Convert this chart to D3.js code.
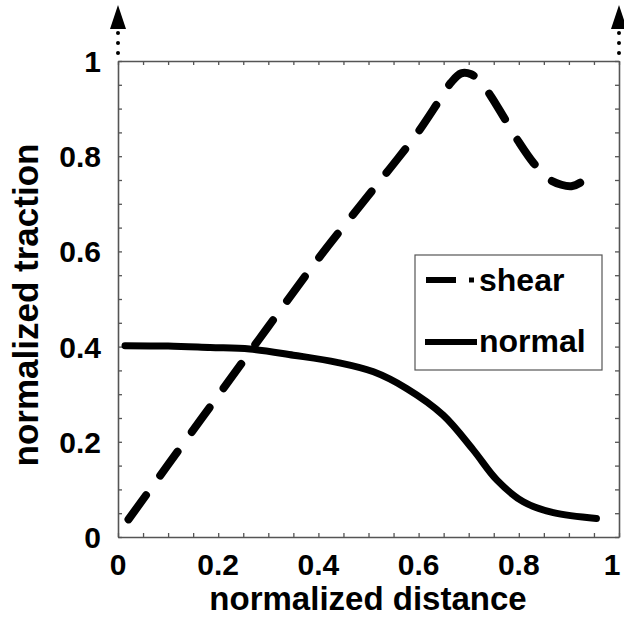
<!DOCTYPE html>
<html>
<head>
<meta charset="utf-8">
<script src="https://cdn.jsdelivr.net/npm/d3@7"></script>
<style>
  body { margin: 0; background: #fff; }
  text { font-family: "Liberation Sans", Arial, Helvetica, sans-serif; font-weight: bold; fill: #000; }
</style>
</head>
<body>
<div id="chart"></div>
<script>
// values
var shearX = [0.021, 0.1, 0.2, 0.3, 0.4, 0.5, 0.56, 0.6, 0.64, 0.665, 0.685, 0.705, 0.725, 0.745, 0.77, 0.8, 0.83, 0.86, 0.885, 0.905, 0.925, 0.945];
var shearY = [0.037, 0.152, 0.297, 0.442, 0.585, 0.718, 0.797, 0.852, 0.915, 0.955, 0.974, 0.972, 0.955, 0.925, 0.882, 0.83, 0.785, 0.752, 0.74, 0.737, 0.746, 0.768];
var normalX = [0.014, 0.1, 0.184, 0.263, 0.35, 0.437, 0.51, 0.576, 0.649, 0.709, 0.756, 0.809, 0.869, 0.955];
var normalY = [0.402, 0.401, 0.398, 0.395, 0.382, 0.367, 0.347, 0.312, 0.256, 0.183, 0.12, 0.074, 0.051, 0.039];
var xTickLabels = [0, 0.2, 0.4, 0.6, 0.8, 1];
var yTickLabels = [0, 0.2, 0.4, 0.6, 0.8, 1];
var minorTicks = d3.range(0, 1.0001, 0.05);
var legendNames = ["shear", "normal"];

(function () {
    var W = 624, H = 621;
    var pLeft = 118, pRight = 619, pTop = 61, pBottom = 537;

    var svg = d3.select("#chart").append("svg")
        .attr("width", W)
        .attr("height", H);

    var x = d3.scaleLinear().domain([0, 1]).range([pLeft, pRight]);
    var y = d3.scaleLinear().domain([0, 1]).range([pBottom, pTop]);

    var fmt = function (d) { return d === 0 || d === 1 ? String(d) : d3.format(".1f")(d); };

    // frame, drawn as four axes with inward ticks
    var axisColor = "#555";
    function styleAxis(g) {
        g.select(".domain").attr("stroke", axisColor).attr("stroke-width", 1.6);
        g.selectAll(".tick line").attr("stroke", axisColor).attr("stroke-width", 1.3);
        g.selectAll(".tick text").remove();
    }
    svg.append("g").attr("transform", "translate(0," + pBottom + ")")
        .call(d3.axisBottom(x).tickValues(minorTicks).tickSize(-4).tickSizeOuter(0)).call(styleAxis);
    svg.append("g").attr("transform", "translate(0," + pTop + ")")
        .call(d3.axisTop(x).tickValues(minorTicks).tickSize(-4).tickSizeOuter(0)).call(styleAxis);
    svg.append("g").attr("transform", "translate(" + pLeft + ",0)")
        .call(d3.axisLeft(y).tickValues(minorTicks).tickSize(-4).tickSizeOuter(0)).call(styleAxis);
    svg.append("g").attr("transform", "translate(" + pRight + ",0)")
        .call(d3.axisRight(y).tickValues(minorTicks).tickSize(-4).tickSizeOuter(0)).call(styleAxis);

    // tick labels
    svg.selectAll(".xlab").data(xTickLabels).enter().append("text")
        .attr("class", "xlab")
        .attr("x", function (d) { return d === 1 ? x(d) - 7 : x(d); })
        .attr("y", 575)
        .attr("text-anchor", "middle")
        .style("font-size", "30px")
        .text(fmt);
    svg.selectAll(".ylab").data(yTickLabels).enter().append("text")
        .attr("class", "ylab")
        .attr("x", 101)
        .attr("y", function (d) { return y(d) + 11; })
        .attr("text-anchor", "end")
        .style("font-size", "30px")
        .text(fmt);

    // axis titles
    svg.append("text")
        .attr("x", 368).attr("y", 610)
        .attr("text-anchor", "middle")
        .style("font-size", "33px")
        .text("normalized distance");
    svg.append("text")
        .attr("transform", "translate(38,305) rotate(-90)")
        .attr("text-anchor", "middle")
        .style("font-size", "35px")
        .text("normalized traction");

    // dotted arrows above the corners
    [0, 1].forEach(function (v) {
        var cx = x(v);
        svg.selectAll(null).data([33, 43, 53]).enter().append("circle")
            .attr("cx", cx).attr("cy", function (d) { return d; })
            .attr("r", 2).attr("fill", "#000");
        svg.append("path")
            .attr("d", "M" + cx + ",5 L" + (cx - 8) + ",29 L" + (cx + 8) + ",29 Z")
            .attr("fill", "#000");
    });

    // curves
    var line = d3.line()
        .x(function (d) { return x(d[0]); })
        .y(function (d) { return y(d[1]); })
        .curve(d3.curveCatmullRom.alpha(0.5));

    svg.append("path")
        .datum(d3.zip(shearX, shearY))
        .attr("d", line)
        .attr("fill", "none")
        .attr("stroke", "#000")
        .attr("stroke-width", 8)
        .attr("stroke-linecap", "round")
        .attr("stroke-dasharray", "30,24");

    svg.append("path")
        .datum(d3.zip(normalX, normalY))
        .attr("d", line)
        .attr("fill", "none")
        .attr("stroke", "#000")
        .attr("stroke-width", 7)
        .attr("stroke-linecap", "round");

    // legend
    var lg = svg.append("g");
    lg.append("rect")
        .attr("x", 415).attr("y", 255).attr("width", 187).attr("height", 115)
        .attr("fill", "#fff").attr("stroke", "#555").attr("stroke-width", 1.2);
    lg.append("line")
        .attr("x1", 426).attr("x2", 456).attr("y1", 280).attr("y2", 280)
        .attr("stroke", "#000").attr("stroke-width", 6);
    lg.append("line")
        .attr("x1", 469).attr("x2", 474).attr("y1", 280).attr("y2", 280)
        .attr("stroke", "#000").attr("stroke-width", 5);
    lg.append("line")
        .attr("x1", 425).attr("x2", 477).attr("y1", 342).attr("y2", 342)
        .attr("stroke", "#000").attr("stroke-width", 6);
    lg.selectAll(".ltxt").data(legendNames).enter().append("text")
        .attr("x", 479)
        .attr("y", function (d, i) { return i === 0 ? 291 : 352; })
        .style("font-size", "32px")
        .text(function (d) { return d; });
})();
</script>
</body>
</html>
